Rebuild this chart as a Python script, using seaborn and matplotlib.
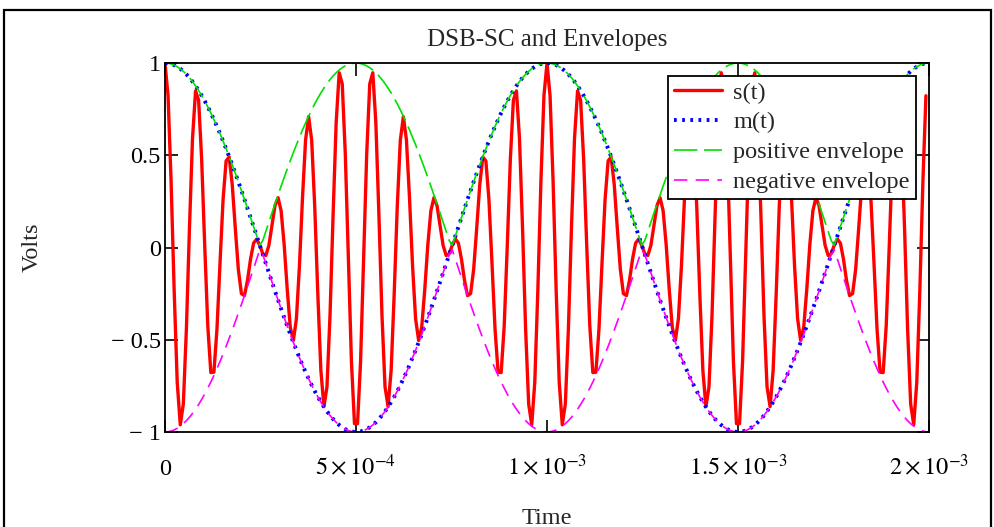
import matplotlib
matplotlib.use("Agg")
import matplotlib.pyplot as plt
import seaborn as sns
import numpy as np
import pandas as pd

# signal parameters
message_freq = 1000.0      # Hz, m(t) period 1e-3 s
carrier_freq = 12000.0     # Hz, 12 carrier cycles per message cycle
sample_step = 8e-6         # s
n_samples = 250            # last sample at 1.992e-3 s

x_ticks = [0, 5e-4, 1e-3, 1.5e-3, 2e-3]
x_labels = ["0", r"$5\times10^{-4}$", r"$1\times10^{-3}$",
            r"$1.5\times10^{-3}$", r"$2\times10^{-3}$"]
y_ticks = [-1, -0.5, 0, 0.5, 1]
y_labels = ["\u2212 1", "\u2212 0.5", "0", "0.5", "1"]

t = np.arange(n_samples) * sample_step
m = np.cos(2 * np.pi * message_freq * t)
s = m * np.cos(2 * np.pi * carrier_freq * t)
df = pd.DataFrame({"t": t, "s": s, "m": m, "pos": np.abs(m), "neg": -np.abs(m)})

sns.set_style("white")
plt.rcParams["font.family"] = ["Liberation Serif", "DejaVu Serif"]
plt.rcParams["mathtext.fontset"] = "stix"
fs = 17.5

fig = plt.figure(figsize=(9.94, 5.27), dpi=100)
ax = fig.add_axes([165 / 994, 1 - 432 / 527, 764 / 994, 369 / 527])

sns.lineplot(data=df, x="t", y="s", ax=ax, color="#ff0000", lw=2.4,
             estimator=None, label="s(t)")
sns.lineplot(data=df, x="t", y="m", ax=ax, color="#0000ff", lw=2.8,
             estimator=None, label="m(t)", linestyle=(0, (0.7, 1.4)))
sns.lineplot(data=df, x="t", y="pos", ax=ax, color="#00e000", lw=1.2,
             estimator=None, label="positive envelope", linestyle=(0, (14, 4)))
sns.lineplot(data=df, x="t", y="neg", ax=ax, color="#ff00ff", lw=1.2,
             estimator=None, label="negative envelope", linestyle=(0, (8, 5)))

ax.set_xlim(0, 2e-3)
ax.set_ylim(-1, 1)
ax.set_xticks(x_ticks)
ax.set_xticklabels(x_labels, fontsize=fs)
ax.set_yticks(y_ticks)
ax.set_yticklabels(y_labels, fontsize=fs)
for lab in ax.get_xticklabels():
    lab.set_va("baseline")
ax.tick_params(axis="x", direction="in", length=9, width=1.2, pad=31,
               top=True, bottom=True, colors="black")
ax.tick_params(axis="y", direction="in", length=9, width=1.2, pad=3,
               left=True, right=True, colors="black")
for sp in ax.spines.values():
    sp.set_color("black")
    sp.set_linewidth(1.3)

ax.set_title("DSB-SC and Envelopes", fontsize=fs + 0.5, pad=12)
ax.set_xlabel("Time", fontsize=fs, labelpad=20)
ax.set_ylabel("Volts", fontsize=fs, labelpad=49)

leg = ax.legend(loc="upper right", bbox_to_anchor=(0.983, 0.966),
                borderaxespad=0, fontsize=fs, frameon=True, fancybox=False,
                handlelength=2.0, handletextpad=0.45, labelspacing=0.32,
                borderpad=0.25, framealpha=1)
leg.get_frame().set_edgecolor("black")
leg.get_frame().set_linewidth(1.3)

# outer frame around the plot region
fig.patches.append(plt.Rectangle((3.5 / 994, -0.05), 987 / 994, 1.05 - 10 / 527,
                                 transform=fig.transFigure, fill=False,
                                 edgecolor="black", lw=1.6))

fig.savefig("out.png", dpi=100)
